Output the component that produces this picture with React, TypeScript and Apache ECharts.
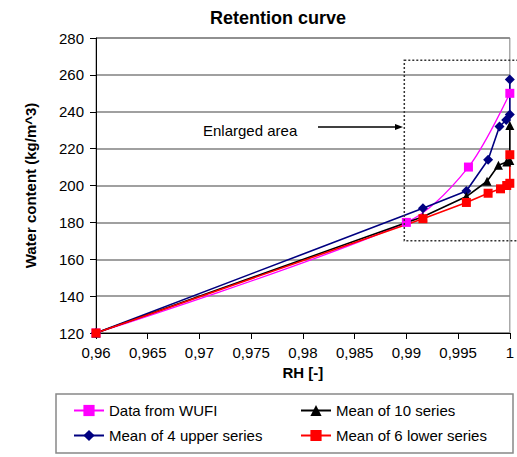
import React, { useEffect, useRef } from "react";
import * as echarts from "echarts";

const seriesNames = [
  "Data from WUFI",
  "Mean of 4 upper series",
  "Mean of 10 series",
  "Mean of 6 lower series",
];

const wufi: [number, number][] = [
  [0.96, 120], [0.99, 180], [0.996, 210], [1.0, 250],
];
const upper4: [number, number][] = [
  [0.96, 120], [0.9916, 187.6], [0.9958, 197], [0.9979, 214], [0.999, 232],
  [0.99965, 235.5], [1.0, 238.5], [1.0, 257.5],
];
const mean10: [number, number][] = [
  [0.96, 120], [0.9916, 183], [0.9958, 194], [0.9978, 202.3], [0.9989, 211],
  [0.9997, 212.8], [1.0, 213.5], [1.0, 232.5],
];
const lower6: [number, number][] = [
  [0.96, 120], [0.9916, 182], [0.9958, 190.8], [0.9979, 195.8], [0.9991, 198.2],
  [0.9997, 200], [1.0, 201.2], [1.0, 216.7],
];

const enlargedBox = { x0: 0.9898, y0: 268, y1: 170 };

const FONT = "Liberation Sans, Arial, sans-serif";

export default function App() {
  const ref = useRef<HTMLDivElement>(null);
  useEffect(() => {
    if (!ref.current) return;
    const chart = echarts.init(ref.current, null, { renderer: "svg" });
    const mk = (name: string, data: [number, number][], color: string, symbol: string, size: number, width: number, smooth: number | boolean = false) => ({
      name,
      type: "line",
      data,
      smooth,
      symbol,
      symbolSize: size,
      showSymbol: true,
      lineStyle: { color, width },
      itemStyle: { color },
      z: 3,
    });
    chart.setOption({
      animation: false,
      backgroundColor: "#fff",
      textStyle: { fontFamily: FONT },
      title: {
        text: "Retention curve",
        left: 205,
        top: 4,
        textStyle: { fontFamily: FONT, fontSize: 18, fontWeight: "bold", color: "#000" },
      },
      grid: {
        left: 96, right: 4, top: 38, bottom: 124,
        show: true, borderColor: "#808080", borderWidth: 1,
      },
      xAxis: {
        type: "value",
        min: 0.96, max: 1, interval: 0.005,
        name: "RH [-]",
        nameLocation: "middle",
        nameGap: 31,
        nameTextStyle: { fontFamily: FONT, fontSize: 15, fontWeight: "bold", color: "#000" },
        axisLine: { show: true, lineStyle: { color: "#000", width: 1 } },
        axisTick: { show: true, length: 6, lineStyle: { color: "#000" } },
        axisLabel: {
          fontFamily: FONT, fontSize: 15, color: "#000", margin: 12,
          formatter: (v: number) => String(+v.toFixed(3)).replace(".", ","),
        },
        splitLine: { show: false },
      },
      yAxis: {
        type: "value",
        min: 120, max: 280, interval: 20,
        name: "Water content (kg/m^3)",
        nameLocation: "middle",
        nameGap: 58,
        nameTextStyle: { fontFamily: FONT, fontSize: 15, fontWeight: "bold", color: "#000" },
        axisLine: { show: true, lineStyle: { color: "#000", width: 1 } },
        axisTick: { show: true, length: 6, lineStyle: { color: "#000" } },
        axisLabel: { fontFamily: FONT, fontSize: 15, color: "#000", margin: 12 },
        splitLine: { show: true, lineStyle: { color: "#808080", width: 1.5 } },
      },
      legend: [
        {
          data: [seriesNames[0], seriesNames[1]],
          orient: "vertical",
          left: 73, top: 403, padding: 0,
          itemWidth: 30, itemHeight: 14, itemGap: 10,
          textStyle: { fontFamily: FONT, fontSize: 15, color: "#000" },
        },
        {
          data: [seriesNames[2], seriesNames[3]],
          orient: "vertical",
          left: 300, top: 403, padding: 0,
          itemWidth: 30, itemHeight: 14, itemGap: 10,
          textStyle: { fontFamily: FONT, fontSize: 15, color: "#000" },
        },
      ],
      series: [
        mk(seriesNames[0], wufi, "#FF00FF", "rect", 9, 1.3, 0.3),
        mk(seriesNames[1], upper4, "#000080", "diamond", 10, 1.6),
        mk(seriesNames[2], mean10, "#000000", "triangle", 9, 1.6),
        mk(seriesNames[3], lower6, "#FF0000", "rect", 9, 1.6),
      ],
    });
    const p0 = chart.convertToPixel({ gridIndex: 0 }, [enlargedBox.x0, enlargedBox.y0]) as number[];
    const p1 = chart.convertToPixel({ gridIndex: 0 }, [enlargedBox.x0, enlargedBox.y1]) as number[];
    chart.setOption({
      graphic: [
        {
          type: "rect",
          shape: { x: p0[0], y: p0[1], width: 520 - p0[0], height: p1[1] - p0[1] },
          style: { fill: "none", stroke: "#333", lineWidth: 1.5, lineDash: [2, 2] },
          z: 10,
        },
        {
          type: "text",
          x: 203, y: 130,
          style: { text: "Enlarged area", fontFamily: FONT, fontSize: 15, fill: "#000", textVerticalAlign: "middle" },
          z: 10,
        },
        {
          type: "line",
          shape: { x1: 318, y1: 127, x2: 398, y2: 127 },
          style: { stroke: "#000", lineWidth: 1.5 },
          z: 10,
        },
        {
          type: "polygon",
          shape: { points: [[403, 127], [395, 124], [395, 130]] },
          style: { fill: "#000" },
          z: 10,
        },
        {
          type: "rect",
          shape: { x: 56, y: 394, width: 457, height: 59 },
          style: { fill: "none", stroke: "#888", lineWidth: 1.5 },
          z: 1,
        },
      ],
    });
    return () => chart.dispose();
  }, []);
  return <div ref={ref} style={{ width: 517, height: 457, position: "absolute", left: 0, top: 0 }} />;
}
